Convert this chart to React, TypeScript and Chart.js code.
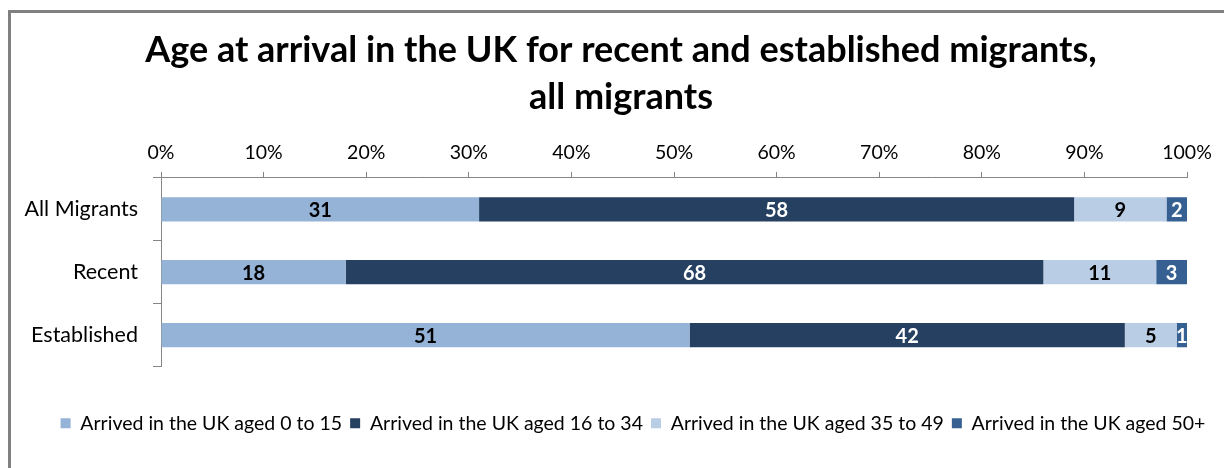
import React, { useEffect, useRef } from "react";
import { Chart, registerables } from "chart.js";

Chart.register(...registerables);

const titleLines = ["Age at arrival in the UK for recent and established migrants,", "all migrants"];
const categories = ["All Migrants", "Recent", "Established"];
const seriesNames = [
  "Arrived in the UK aged 0 to 15",
  "Arrived in the UK aged 16 to 34",
  "Arrived in the UK aged 35 to 49",
  "Arrived in the UK aged 50+",
];
const aged0to15 = [31, 18, 51];
const aged16to34 = [58, 68, 42];
const aged35to49 = [9, 11, 5];
const aged50plus = [2, 3, 1];
const xTicks = [0, 10, 20, 30, 40, 50, 60, 70, 80, 90, 100];

const seriesValues = [aged0to15, aged16to34, aged35to49, aged50plus];
const seriesColors = ["#95B3D7", "#254061", "#B9CDE5", "#376092"];
const labelColors = ["#000000", "#FFFFFF", "#000000", "#FFFFFF"];
const FONT = "Lato";
const AXIS = "#868686";

const rowTotals = categories.map((_, i) => seriesValues.reduce((s, arr) => s + arr[i], 0));

const valueLabels = {
  id: "valueLabels",
  afterDatasetsDraw(chart: any) {
    const ctx = chart.ctx;
    ctx.save();
    ctx.font = `bold 20px ${FONT}`;
    ctx.textAlign = "center";
    ctx.textBaseline = "middle";
    chart.data.datasets.forEach((ds: any, di: number) => {
      const meta = chart.getDatasetMeta(di);
      meta.data.forEach((el: any, i: number) => {
        const cx = (el.x + el.base) / 2;
        ctx.fillStyle = labelColors[di];
        ctx.fillText(String(seriesValues[di][i]), cx, el.y + 1);
      });
    });
    ctx.restore();
  },
};

const legendShift = {
  id: "legendShift",
  afterLayout(chart: any) {
    if (chart.legend) {
      chart.legend.left += 12;
      chart.legend.right += 12;
    }
  },
};

export default function App() {
  const ref = useRef<HTMLCanvasElement | null>(null);
  useEffect(() => {
    if (!ref.current) return;
    const chart = new Chart(ref.current, {
      type: "bar",
      data: {
        labels: categories,
        datasets: seriesValues.map((vals, di) => ({
          label: seriesNames[di],
          data: vals.map((v, i) => (v / rowTotals[i]) * 100),
          backgroundColor: seriesColors[di],
          borderWidth: 0,
          barPercentage: 1,
          categoryPercentage: 24 / 62,
        })),
      },
      options: {
        indexAxis: "y",
        animation: false,
        responsive: false,
        maintainAspectRatio: false,
        layout: { padding: { left: 0, right: 0, top: 0, bottom: 25 } },
        scales: {
          x: {
            position: "top",
            stacked: true,
            min: 0,
            max: 100,
            afterBuildTicks: (scale: any) => {
              scale.ticks = xTicks.map((v) => ({ value: v }));
            },
            ticks: {
              callback: (v: any) => v + "%",
              font: { family: FONT, size: 19.5 },
              color: "#000",
              padding: 7,
              maxRotation: 0,
            },
            grid: { drawOnChartArea: false, drawTicks: true, tickLength: 6, color: AXIS },
            border: { display: true, color: AXIS, width: 1 },
          },
          y: {
            stacked: true,
            afterFit: (scale: any) => {
              scale.width = 161;
            },
            ticks: {
              font: { family: FONT, size: 21.5 },
              color: "#000",
              padding: 15,
            },
            grid: { offset: true, drawOnChartArea: false, drawTicks: true, tickLength: 8, color: AXIS },
            border: { display: true, color: AXIS, width: 1 },
          },
          spacer: {
            type: "linear",
            position: "right",
            display: true,
            grid: { display: false },
            border: { display: false },
            ticks: { display: false },
            afterFit: (scale: any) => {
              scale.width = 55;
            },
          },
        },
        plugins: {
          title: {
            display: true,
            text: titleLines,
            color: "#000",
            font: { family: FONT, size: 36, weight: "bold", lineHeight: 47 / 36 },
            padding: { top: 26.5, bottom: 14 },
          },
          legend: {
            position: "bottom",
            title: { display: true, text: " ", font: { size: 10, lineHeight: 1 }, padding: { top: 29, bottom: 0 } },
            labels: {
              font: { family: FONT, size: 19.5 },
              color: "#000",
              boxWidth: 10,
              boxHeight: 10,
              padding: 8,
            },
          },
          tooltip: { enabled: false },
        },
      },
      plugins: [valueLabels, legendShift],
    });
    return () => chart.destroy();
  }, []);

  return (
    <div style={{ position: "fixed", left: 0, top: 0, width: 1224, height: 468, background: "#fff", overflow: "hidden" }}>
      <div
        style={{
          position: "absolute",
          left: 8,
          top: 10,
          width: 1240,
          height: 480,
          borderLeft: `3px solid #808080`,
          borderTop: `3px solid #808080`,
          boxSizing: "border-box",
        }}
      />
      <canvas ref={ref} width={1242} height={468} style={{ position: "absolute", left: 0, top: 0 }} />
    </div>
  );
}
